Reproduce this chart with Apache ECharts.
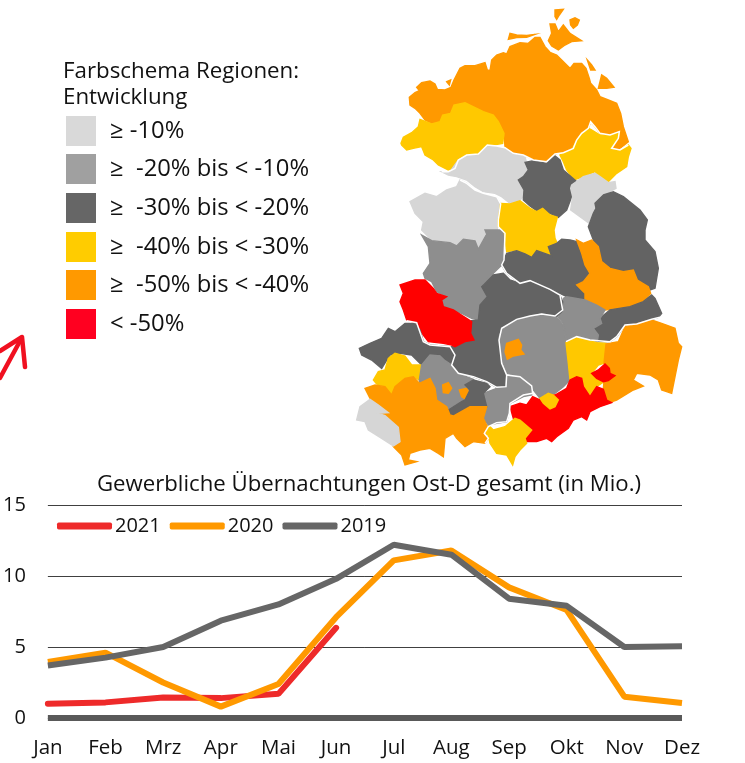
<!DOCTYPE html>
<html><head><meta charset="utf-8">
<style>html,body{margin:0;padding:0;background:#fff}#c{width:745px;height:763px}</style>
<script src="https://cdn.jsdelivr.net/npm/echarts@6/dist/echarts.min.js"></script>
</head><body><div id="c"></div>
<script>
const months = ['Jan','Feb','Mrz','Apr','Mai','Jun','Jul','Aug','Sep','Okt','Nov','Dez'];
const y2021 = [1.0,1.1,1.45,1.4,1.7,6.35];
const y2020 = [3.95,4.6,2.5,0.8,2.4,7.1,11.1,11.8,9.2,7.6,1.5,1.05];
const y2019 = [3.7,4.25,5.0,6.85,8.0,9.8,12.2,11.5,8.4,7.9,5.0,5.05];
const yTicks = [0,5,10,15];
const chartTitle = 'Gewerbliche Übernachtungen Ost-D gesamt (in Mio.)';
const legendTitle = ['Farbschema Regionen:','Entwicklung'];
const classLabels = ['≥ -10%','≥  -20% bis < -10%','≥  -30% bis < -20%','≥  -40% bis < -30%','≥  -50% bis < -40%','< -50%'];
const legendColors = ['#d9d9d9','#a0a0a0','#666666','#ffcc00','#ff9900','#ff0020'];
const mapColors = ['#d6d6d6','#8e8e8e','#636363','#ffc800','#ff9900','#ff0000'];

// Region outlines in map units (1 unit = 1/3 px of the map area), class = index into classLabels
const regionClass = {A:4,B:3,C:3,D:0,E:2,F:0,G:2,I:0,J:3,K:2,L:4,M:2,N:1,O:1,P:5,Q:2,R:1,R2:4,S:3,S2:5,T:4,U:5,U2:3,V:3,W:1,X:2,Y:3,Z:1,Z2:4,Z3:4,AA:2,BB:4,CC:0};
const off = 690;
const low = pts => pts.map(p => [p[0], p[1] + off]);
const regionShapes = {
 A:[[[178,292],[195,278],[208,272],[200,262],[215,248],[240,243],[255,252],[262,268],[285,270],[303,262],[312,240],[330,205],[345,197],[375,197],[405,188],[412,210],[420,212],[425,180],[440,165],[460,158],[470,162],[480,140],[510,128],[535,130],[555,112],[570,112],[585,140],[600,157],[620,165],[635,180],[650,195],[660,205],[672,190],[695,190],[708,205],[718,235],[722,250],[740,270],[750,290],[775,300],[800,310],[812,340],[820,380],[835,425],[810,445],[790,450],[785,440],[805,410],[808,395],[780,405],[750,400],[735,380],[722,365],[715,385],[695,400],[680,420],[670,445],[640,455],[615,462],[590,485],[550,478],[520,465],[490,460],[465,440],[462,400],[445,365],[430,345],[400,335],[380,325],[345,308],[310,315],[300,340],[275,350],[270,365],[250,372],[225,360],[210,340],[195,325],[180,315]],
    [[600,72],[615,72],[625,95],[640,75],[660,100],[695,122],[665,125],[645,135],[625,150],[605,138],[595,122],[605,100]],
    [[615,30],[640,28],[628,45],[620,58],[615,50]],
    [[660,60],[675,53],[688,60],[682,75],[670,85],[662,75]],
    [[475,118],[480,100],[500,105],[530,106],[555,103],[530,112],[500,113]],
    [[745,265],[755,225],[770,235],[792,262],[770,265]],
    [[712,180],[725,195],[735,210],[722,210]],
    [[290,245],[302,240],[298,255]]],
 B:[[[153,430],[160,412],[185,398],[205,380],[210,358],[245,372],[270,365],[278,345],[302,340],[312,315],[345,308],[380,325],[400,335],[430,345],[445,365],[462,400],[458,430],[430,435],[410,433],[385,462],[350,465],[325,480],[315,505],[295,510],[265,495],[250,480],[225,465],[215,440],[190,445],[170,450],[155,435]]],
 C:[[[630,465],[665,450],[680,420],[695,400],[715,385],[722,388],[750,405],[780,407],[808,397],[805,415],[785,445],[810,452],[835,435],[843,445],[835,470],[830,500],[800,520],[775,545],[750,530],[735,515],[700,530],[672,540],[650,510],[640,485]]],
 D:[[[275,515],[300,515],[325,480],[350,468],[385,465],[412,437],[440,440],[465,445],[490,462],[525,470],[530,490],[535,510],[518,530],[505,540],[520,570],[520,590],[500,610],[480,610],[455,590],[435,580],[400,575],[375,560],[350,540],[320,530],[295,525]]],
 E:[[[525,487],[550,482],[590,490],[615,468],[630,480],[640,510],[680,545],[662,565],[665,590],[650,630],[625,652],[600,640],[578,625],[560,632],[540,618],[520,600],[522,570],[505,540],[520,530],[535,510]]],
 F:[[[665,555],[700,530],[735,520],[750,530],[775,548],[795,545],[798,565],[760,585],[735,610],[738,625],[730,640],[715,668],[690,650],[662,630],[668,590],[662,565]]],
 G:[[[760,585],[790,575],[820,590],[870,630],[892,660],[885,690],[885,720],[915,755],[925,805],[915,865],[900,870],[862,840],[850,815],[820,820],[780,805],[755,785],[745,740],[730,720],[715,680],[730,640],[738,625],[735,610]]],
 I:[[[180,605],[225,580],[260,590],[290,570],[320,560],[330,540],[350,550],[375,572],[400,582],[440,592],[452,612],[445,660],[442,690],[465,705],[430,690],[410,690],[400,715],[385,745],[375,722],[340,715],[320,735],[300,725],[245,720],[215,690],[220,665],[195,640]]],
 O:[low([[220,130],[240,100],[235,50],[215,15],[245,32],[300,38],[320,48],[340,28],[375,33],[385,58],[410,12],[405,0],[465,0],[462,90],[455,105],[430,130],[395,165],[412,200],[390,225],[385,270],[365,265],[335,250],[310,240],[280,230],[275,210],[290,200],[260,185],[245,155],[225,145]])],
 J:[[[452,610],[480,612],[510,602],[540,625],[560,635],[578,625],[600,645],[622,652],[612,690],[615,715],[622,730],[598,742],[605,765],[560,750],[545,770],[525,760],[500,750],[470,755],[462,690],[445,680],[445,660]]],
 K:[low([[470,70],[500,62],[525,72],[545,82],[560,62],[605,78],[595,50],[620,40],[635,28],[660,30],[680,35],[695,70],[705,105],[720,130],[700,155],[680,165],[705,190],[705,210],[650,200],[630,190],[600,175],[560,160],[540,150],[510,160],[470,130],[455,105],[462,90]])],
 L:[low([[680,30],[700,40],[725,30],[745,50],[755,95],[780,115],[820,125],[850,120],[862,150],[895,170],[902,190],[880,215],[840,230],[800,235],[765,240],[740,225],[705,210],[705,190],[680,165],[700,155],[720,130],[705,105],[695,70]])],
 M:[low([[905,195],[915,205],[935,250],[925,262],[905,268],[860,280],[825,285],[800,320],[780,335],[740,335],[745,315],[730,295],[755,280],[750,265],[780,240],[840,230],[880,215]])],
 N:[low([[640,205],[650,200],[705,210],[740,225],[765,240],[750,265],[755,280],[730,295],[745,315],[742,335],[700,325],[680,320],[650,332],[640,280],[625,262],[640,240]])],
 Q:[low([[395,170],[430,135],[460,130],[480,150],[510,160],[540,150],[560,160],[600,178],[628,192],[638,215],[635,245],[620,260],[575,250],[540,258],[500,265],[455,295],[445,320],[448,340],[455,400],[470,440],[468,470],[440,472],[410,455],[370,440],[325,430],[305,405],[315,375],[300,350],[315,350],[345,335],[372,330],[362,310],[365,272],[385,270],[390,225],[412,200]])],
 P:[low([[150,165],[195,150],[225,150],[250,175],[260,190],[290,200],[275,210],[280,230],[310,240],[345,262],[365,275],[362,310],[372,330],[345,335],[315,350],[305,345],[280,340],[235,335],[220,315],[200,280],[170,270],[160,240],[150,215],[160,190]])],
 R:[low([[455,300],[500,270],[540,260],[575,252],[620,262],[640,285],[648,335],[655,400],[660,450],[640,470],[615,490],[590,490],[570,505],[550,480],[545,465],[520,440],[490,435],[470,430],[458,395],[450,340],[448,320]])],
 R2:[low([[470,340],[505,328],[515,345],[512,360],[522,372],[490,378],[472,388],[465,365]])],
 S:[low([[648,338],[680,322],[700,328],[742,338],[768,340],[762,400],[745,405],[725,430],[740,445],[762,455],[740,470],[720,500],[700,470],[695,440],[660,450],[655,400]])],
 T:[low([[768,342],[805,335],[825,290],[860,282],[905,270],[935,280],[975,295],[985,340],[995,350],[985,390],[965,490],[935,480],[925,450],[900,435],[860,430],[850,450],[880,468],[850,480],[800,510],[785,515],[770,510],[760,475],[762,455],[775,452],[795,437],[780,430],[778,415],[762,400]])],
 S2:[low([[725,430],[745,420],[765,402],[778,415],[780,430],[795,437],[775,452],[760,455],[740,445]])],
 U:[low([[480,530],[510,520],[530,525],[548,500],[570,510],[590,495],[615,495],[650,475],[660,450],[680,440],[695,445],[700,470],[720,500],[740,470],[760,478],[770,510],[785,518],[750,530],[720,545],[710,570],[695,560],[670,570],[655,595],[620,620],[605,635],[590,625],[560,635],[530,635],[525,620],[545,600],[510,570],[490,565]])],
 U2:[low([[570,505],[595,490],[610,495],[625,510],[615,530],[600,537],[580,520]])],
 V:[low([[415,585],[430,600],[465,590],[495,565],[510,570],[545,600],[525,625],[530,640],[510,660],[495,680],[488,705],[470,675],[440,670],[420,640],[415,615],[405,610]])],
 W:[low([[400,490],[440,475],[468,470],[470,440],[490,435],[520,442],[545,468],[545,495],[520,500],[480,520],[478,545],[470,575],[440,580],[415,585],[400,565],[410,530]])],
 X:[low([[28,355],[60,340],[95,325],[115,295],[135,305],[165,280],[195,280],[210,300],[220,335],[240,345],[300,350],[315,375],[305,405],[285,390],[270,375],[240,375],[215,405],[185,375],[150,370],[120,375],[95,415],[65,390],[35,375]])],
 Y:[low([[70,450],[85,425],[105,420],[115,385],[135,370],[165,378],[185,405],[212,405],[208,450],[190,440],[165,445],[135,470],[125,495],[105,470],[80,462]])],
 Z:[low([[208,450],[215,405],[240,375],[270,378],[285,392],[305,405],[325,430],[370,448],[345,465],[360,480],[345,510],[335,515],[295,540],[290,530],[260,510],[255,475],[240,445],[210,460]])],
 Z2:[low([[278,465],[295,458],[305,475],[295,490],[280,488]])],
 Z3:[low([[328,480],[350,475],[358,490],[348,508],[335,500]])],
 AA:[low([[295,540],[335,515],[345,510],[360,480],[345,465],[370,450],[410,460],[420,470],[400,490],[410,530],[380,530],[355,530],[310,558],[298,555]])],
 BB:[low([[45,475],[75,465],[105,470],[125,495],[135,470],[165,445],[190,440],[208,460],[240,445],[255,475],[260,510],[290,530],[300,555],[310,558],[360,530],[410,530],[400,565],[412,590],[405,610],[415,625],[405,640],[370,635],[345,650],[320,625],[310,610],[285,625],[280,680],[265,670],[240,655],[210,660],[180,670],[175,690],[200,695],[165,705],[155,675],[130,650],[150,635],[145,590],[105,555],[85,550],[115,550],[85,525],[60,505]])],
 CC:[low([[60,508],[85,525],[115,548],[85,550],[105,557],[145,592],[150,635],[130,648],[95,625],[55,600],[45,575],[20,570],[30,530]])]
};
// State borders drawn as white lines
const stateBorders = [
 [[835,435],[810,450],[785,445],[805,415],[808,395],[780,405],[750,400],[735,380],[722,365],[715,385],[695,400],[680,420],[670,445],[640,458],[615,462],[590,485],[550,480],[520,465],[490,460],[465,443],[440,438],[412,435],[385,462],[350,465],[325,480],[315,505],[295,515],[275,515]],
 [[330,540],[350,550],[375,570],[400,580],[440,590],[452,612],[445,660],[445,680],[465,700],[462,780]].concat(low([[455,105],[470,130],[510,160],[540,152],[600,178],[630,195],[638,240],[615,258],[575,252],[540,258],[500,268],[455,295],[447,330],[455,400],[470,435],[510,440],[545,468],[548,490],[520,495],[480,520],[478,550],[470,575],[440,578],[415,590],[403,610],[415,625],[405,640]])),
 low([[648,335],[680,320],[720,330],[780,335],[800,320],[825,285],[860,282],[905,268],[930,262]]),
 low([[170,272],[200,278],[220,335],[240,345],[300,350],[315,375],[305,405],[325,430],[370,440],[410,455],[440,472],[468,470],[470,435]])
];
const arrowStrokes = [[[0,378],[20,341]],[[0,351],[22,337],[25,367]]];

const regionNames = Object.keys(regionShapes);
echarts.registerMap('ost', {type:'FeatureCollection',features:regionNames.map(n=>({type:'Feature',properties:{name:n},geometry:{type:'MultiPolygon',coordinates:regionShapes[n].map(r=>[r.concat([r[0]])])}}))});

const FONT = '"Open Sans","Noto Sans",sans-serif';
const TXT = '#111111';
const graphics = [];
const titleY = [72,98];
legendTitle.forEach((t,i)=>graphics.push({type:'text',x:63,y:titleY[i],style:{text:t,font:'22.3px '+FONT,fill:TXT,verticalAlign:'middle'}}));
const swatchTops = [116,154,193,232,270,309];
classLabels.forEach((t,i)=>{
 graphics.push({type:'rect',shape:{x:66,y:swatchTops[i],width:30,height:30},style:{fill:legendColors[i]}});
 graphics.push({type:'text',x:110,y:swatchTops[i]+15,style:{text:t,font:'23.8px '+FONT,fill:TXT,verticalAlign:'middle'}});
});
arrowStrokes.forEach(s=>graphics.push({type:'polyline',shape:{points:s},style:{stroke:'#f01020',lineWidth:4.5,fill:null,lineCap:'round',lineJoin:'round'}}));

const chart = echarts.init(document.getElementById('c'),null,{renderer:'canvas'});
chart.setOption({
 animation:false,
 textStyle:{fontFamily:FONT},
 title:{text:chartTitle,left:364,top:469,textAlign:'center',textStyle:{fontSize:22.2,fontWeight:'normal',color:TXT,fontFamily:FONT}},
 graphic:graphics,
 geo:{map:'ost',projection:{project:p=>p,unproject:p=>p},boundingCoords:[[0,0],[1035,1410]],layoutCenter:[522.5,235],layoutSize:470,roam:false,silent:true,
  label:{show:false},emphasis:{disabled:true},
  regions:regionNames.map(n=>({name:n,itemStyle:{areaColor:mapColors[regionClass[n]],borderColor:mapColors[regionClass[n]],borderWidth:1.4}}))},
 grid:{left:47,right:63,top:505,bottom:45},
 legend:{left:52,top:511,itemWidth:55,itemHeight:7,itemGap:9,icon:'roundRect',data:['2021','2020','2019'],textStyle:{fontSize:20,color:TXT,fontFamily:FONT,padding:[0,0,0,-2]}},
 xAxis:{type:'category',data:months,boundaryGap:false,axisLine:{lineStyle:{color:'#595959',width:6,cap:'butt'}},axisTick:{show:false},axisLabel:{fontSize:20.5,color:TXT,margin:20,interval:0,fontFamily:FONT},splitLine:{show:false}},
 yAxis:{type:'value',min:yTicks[0],max:yTicks[3],interval:yTicks[1]-yTicks[0],axisLine:{show:false},axisTick:{show:false},axisLabel:{fontSize:20,color:TXT,margin:22,padding:[5,0,0,0],fontFamily:FONT},splitLine:{lineStyle:{color:'#404040',width:1}}},
 series:[
  {type:'lines',coordinateSystem:'geo',polyline:true,silent:true,z:3,lineStyle:{color:'#ffffff',width:1.5,opacity:1,curveness:0},data:stateBorders.map(c=>({coords:c}))},
  {name:'2021',type:'line',data:y2021,symbol:'none',lineStyle:{color:'#ee2a2a',width:6,cap:'round'},itemStyle:{color:'#ee2a2a'}},
  {name:'2020',type:'line',data:y2020,symbol:'none',lineStyle:{color:'#ff9900',width:6},itemStyle:{color:'#ff9900'}},
  {name:'2019',type:'line',data:y2019,symbol:'none',lineStyle:{color:'#666666',width:6},itemStyle:{color:'#666666'}}
 ]
});
</script></body></html>
